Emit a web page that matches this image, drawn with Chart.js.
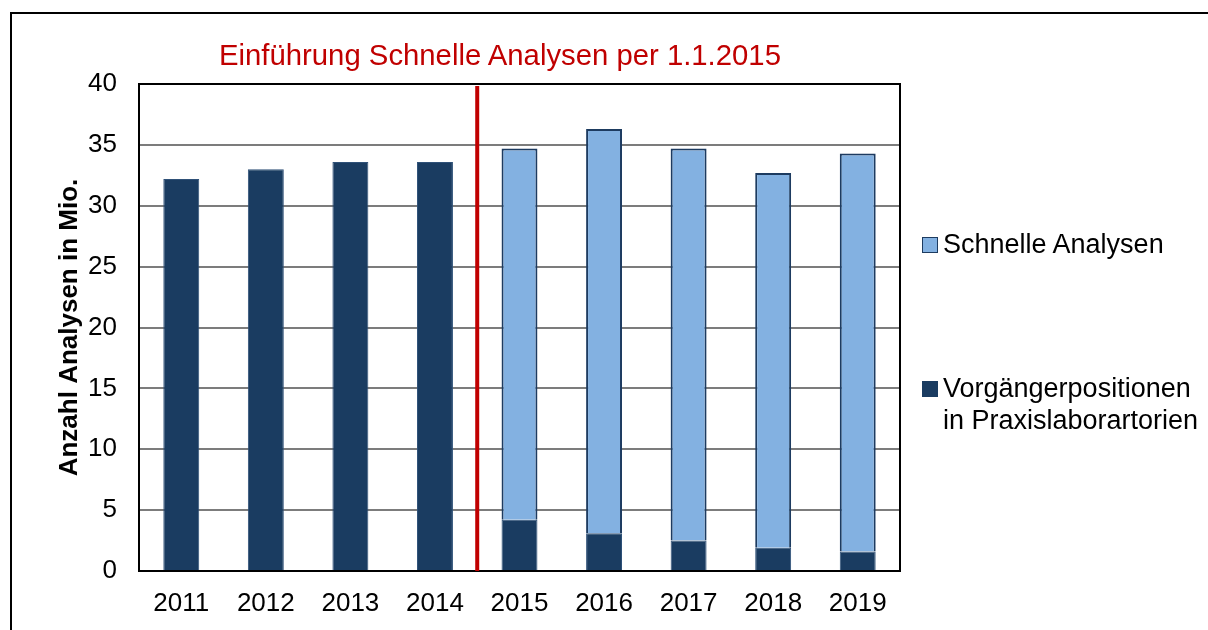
<!DOCTYPE html>
<html lang="de">
<head>
<meta charset="utf-8">
<title>Anzahl Analysen in Mio.</title>
<script src="https://cdn.jsdelivr.net/npm/chart.js@4/dist/chart.umd.min.js"></script>
<style>
  html, body { margin: 0; padding: 0; background: #fff; }
  body { width: 1208px; height: 630px; position: relative; overflow: hidden;
         font-family: "Liberation Sans", Arial, sans-serif; }
  #frame { position: absolute; left: 10px; top: 12px; right: -10px; bottom: -10px;
           border-left: 2px solid #000; border-top: 2px solid #000; }
  #wrap { position: absolute; left: 0; top: 0; width: 1208px; height: 630px; }
  #headline { position: absolute; left: 219px; top: 38px; font-size: 29.3px; line-height: 34px;
              color: #c00000; white-space: nowrap; }
  .lg { position: absolute; left: 922px; font-size: 27px; line-height: 32px; color: #000; }
  .lg .sw { position: absolute; left: 0; width: 14px; height: 14px; box-sizing: content-box; }
  .lg .tx { position: absolute; left: 21px; white-space: nowrap; }
</style>
</head>
<body>
<div id="frame"></div>
<div id="wrap"><canvas id="chart" width="1208" height="630"></canvas></div>
<div id="headline">Einführung Schnelle Analysen per 1.1.2015</div>
<div id="legend"></div>
<script>
// Jahre auf der x-Achse
const years = ['2011', '2012', '2013', '2014', '2015', '2016', '2017', '2018', '2019'];
// Analysen in Mio.: bisherige Positionen (Praxislabor)
const vorgaenger = [32.2, 33.0, 33.6, 33.6, 4.2, 3.1, 2.5, 1.9, 1.6];
// Analysen in Mio.: Schnelle Analysen (ab 2015)
const schnelle = [null, null, null, null, 30.5, 33.2, 32.2, 30.8, 32.7];
// Ticks der y-Achse
const yTicks = [0, 5, 10, 15, 20, 25, 30, 35, 40];
// Legendentexte
const nameSchnelle = 'Schnelle Analysen';
const nameVorgaenger = ['Vorgängerpositionen', 'in Praxislaborartorien'];

const DARK = '#1a3c61';
const LIGHT = '#83b1e1';
const EDGE = '#1d3b60';
const RED = '#c00000';
const FONT = '"Liberation Sans", Arial, sans-serif';

// Rahmen um die Zeichenfläche und Markierung der Einführung (zwischen 2014 und 2015)
const framePlugin = {
  id: 'frameAndMarker',
  afterDatasetsDraw(chart) {
    const { ctx, chartArea: a, scales: { x } } = chart;
    ctx.save();
    ctx.strokeStyle = '#000';
    ctx.lineWidth = 2;
    ctx.strokeRect(a.left, a.top, a.right - a.left, a.bottom - a.top);
    const i = years.indexOf('2015');
    const xm = (x.getPixelForValue(i - 1) + x.getPixelForValue(i)) / 2;
    ctx.strokeStyle = RED;
    ctx.lineWidth = 4;
    ctx.beginPath();
    ctx.moveTo(xm, a.top + 2);
    ctx.lineTo(xm, a.bottom);
    ctx.stroke();
    ctx.restore();
  }
};

new Chart(document.getElementById('chart'), {
  type: 'bar',
  data: {
    labels: years,
    datasets: [
      {
        label: nameVorgaenger.join(' '),
        data: vorgaenger,
        backgroundColor: DARK,
        borderColor: '#2f5178',
        borderWidth: 1,
        borderSkipped: 'start',
        categoryPercentage: 0.85,
        barPercentage: 0.5
      },
      {
        label: nameSchnelle,
        data: schnelle,
        backgroundColor: LIGHT,
        borderColor: EDGE,
        borderWidth: 2,
        borderSkipped: 'start',
        categoryPercentage: 0.85,
        barPercentage: 0.5
      }
    ]
  },
  options: {
    responsive: false,
    animation: false,
    events: [],
    layout: { padding: { left: 0, top: 84, right: 308, bottom: 0 } },
    plugins: { legend: { display: false }, tooltip: { enabled: false }, title: { display: false } },
    scales: {
      x: {
        stacked: true,
        grid: { display: false, drawTicks: false },
        border: { display: true, color: '#000', width: 2 },
        ticks: { color: '#000', font: { family: FONT, size: 26 }, padding: 17, maxRotation: 0 },
        afterFit(s) { s.height = 59; }
      },
      y: {
        stacked: true,
        min: 0,
        max: 40,
        afterBuildTicks(s) { s.ticks = yTicks.map(v => ({ value: v })); },
        grid: { color: '#7c7c7c', lineWidth: 2, drawTicks: false },
        border: { display: true, color: '#000', width: 2 },
        ticks: { color: '#000', font: { family: FONT, size: 26 }, padding: 22 },
        title: {
          display: true,
          text: 'Anzahl Analysen in Mio.',
          color: '#000',
          font: { family: FONT, size: 26, weight: 'bold' },
          padding: { top: 54, bottom: 0 }
        },
        afterFit(s) { s.width = 139; }
      }
    }
  },
  plugins: [framePlugin]
});

// Legende rechts neben dem Diagramm
const legend = document.getElementById('legend');
function legendItem(top, lines, fill, border) {
  const box = document.createElement('div');
  box.className = 'lg';
  box.style.top = top + 'px';
  const sw = document.createElement('div');
  sw.className = 'sw';
  sw.style.top = '9px';
  sw.style.background = fill;
  sw.style.border = '1px solid ' + border;
  box.appendChild(sw);
  lines.forEach((t, k) => {
    const tx = document.createElement('div');
    tx.className = 'tx';
    tx.style.top = (k * 32) + 'px';
    tx.textContent = t;
    box.appendChild(tx);
  });
  legend.appendChild(box);
}
legendItem(228, [nameSchnelle], LIGHT, EDGE);
legendItem(372, nameVorgaenger, DARK, DARK);
</script>
</body>
</html>
